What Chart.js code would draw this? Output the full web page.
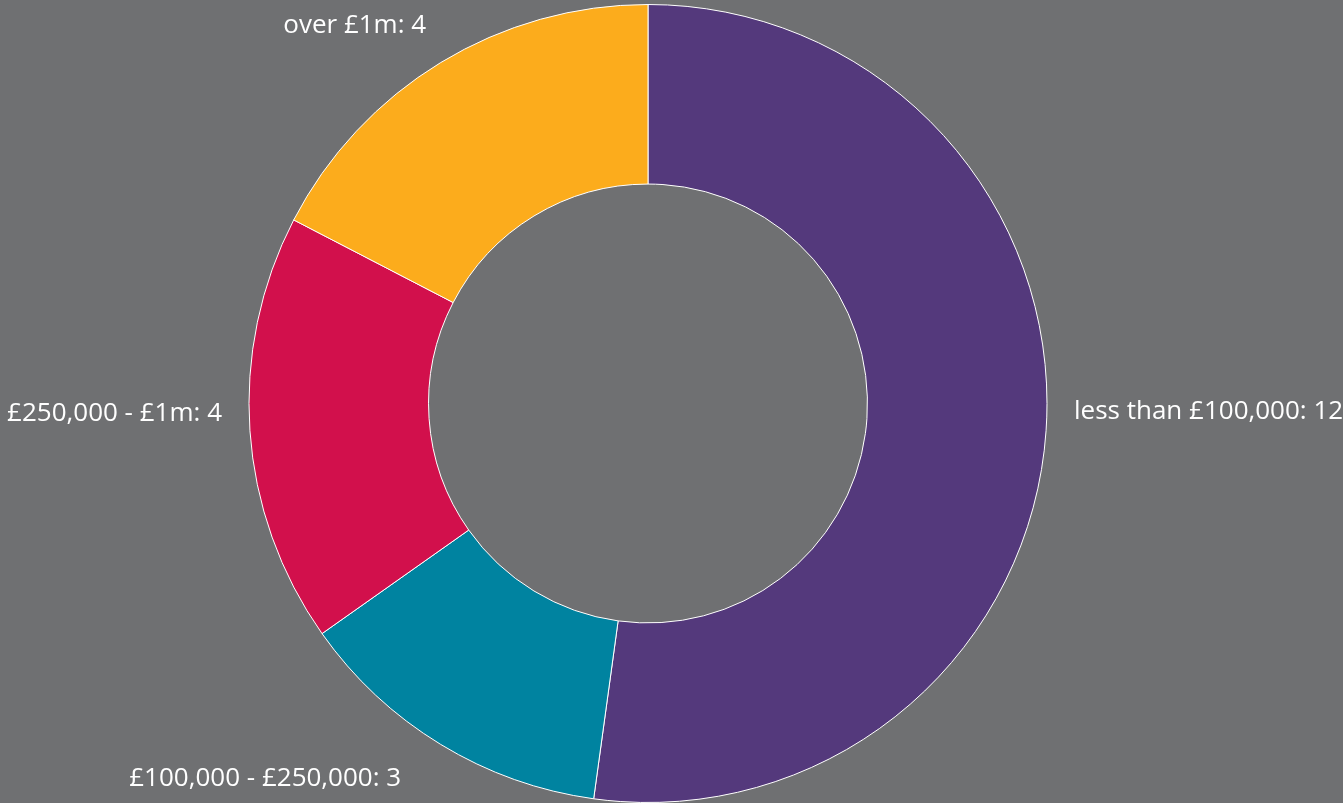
<!DOCTYPE html>
<html>
<head>
<meta charset="utf-8">
<script src="https://cdn.jsdelivr.net/npm/chart.js@4/dist/chart.umd.min.js"></script>
<style>
  html, body { margin: 0; padding: 0; background: #6f7072; }
  #wrap { width: 1343px; height: 803px; position: relative; }
</style>
</head>
<body>
<div id="wrap"><canvas id="chart"></canvas></div>
<script>
// Number of holdings by value band
const categories = ['less than £100,000', '£100,000 - £250,000', '£250,000 - £1m', 'over £1m'];
const counts = [12, 3, 4, 4];
const colors = ['#54397c', '#0083a0', '#d2104c', '#fcac1c'];

// Writes "category: value" outside each slice, at the slice's mid angle
const outsideLabels = {
  id: 'outsideLabels',
  afterDatasetsDraw(chart, args, opts) {
    const ctx = chart.ctx;
    const meta = chart.getDatasetMeta(0);
    ctx.save();
    ctx.font = opts.font;
    ctx.fillStyle = opts.color;
    ctx.textBaseline = 'middle';
    meta.data.forEach((arc, i) => {
      const p = arc.getProps(['x', 'y', 'startAngle', 'endAngle', 'outerRadius'], true);
      const mid = (p.startAngle + p.endAngle) / 2;
      const r = p.outerRadius + opts.gap;
      const nudge = opts.nudges[i] || [0, 0];
      const x = p.x + Math.cos(mid) * r + nudge[0];
      const y = p.y + Math.sin(mid) * r + nudge[1];
      ctx.textAlign = Math.cos(mid) >= 0 ? 'left' : 'right';
      const text = chart.data.labels[i] + ': ' + chart.data.datasets[0].data[i];
      ctx.fillText(text, x, y);
    });
    ctx.restore();
  }
};

new Chart(document.getElementById('chart'), {
  type: 'doughnut',
  data: {
    labels: categories,
    datasets: [{
      data: counts,
      backgroundColor: colors,
      borderColor: '#ffffff',
      borderWidth: 1
    }]
  },
  options: {
    responsive: true,
    maintainAspectRatio: false,
    animation: false,
    cutout: '55%',
    layout: { padding: { top: 4, right: 47, bottom: 0, left: 0 } },
    plugins: {
      legend: { display: false },
      tooltip: { enabled: false },
      outsideLabels: {
        font: '26px "Open Sans", sans-serif',
        color: '#ffffff',
        gap: 28,
        nudges: [[0, -21], [-25, 10], [0, -19], [0, -13]]
      }
    }
  },
  plugins: [outsideLabels]
});
</script>
</body>
</html>
